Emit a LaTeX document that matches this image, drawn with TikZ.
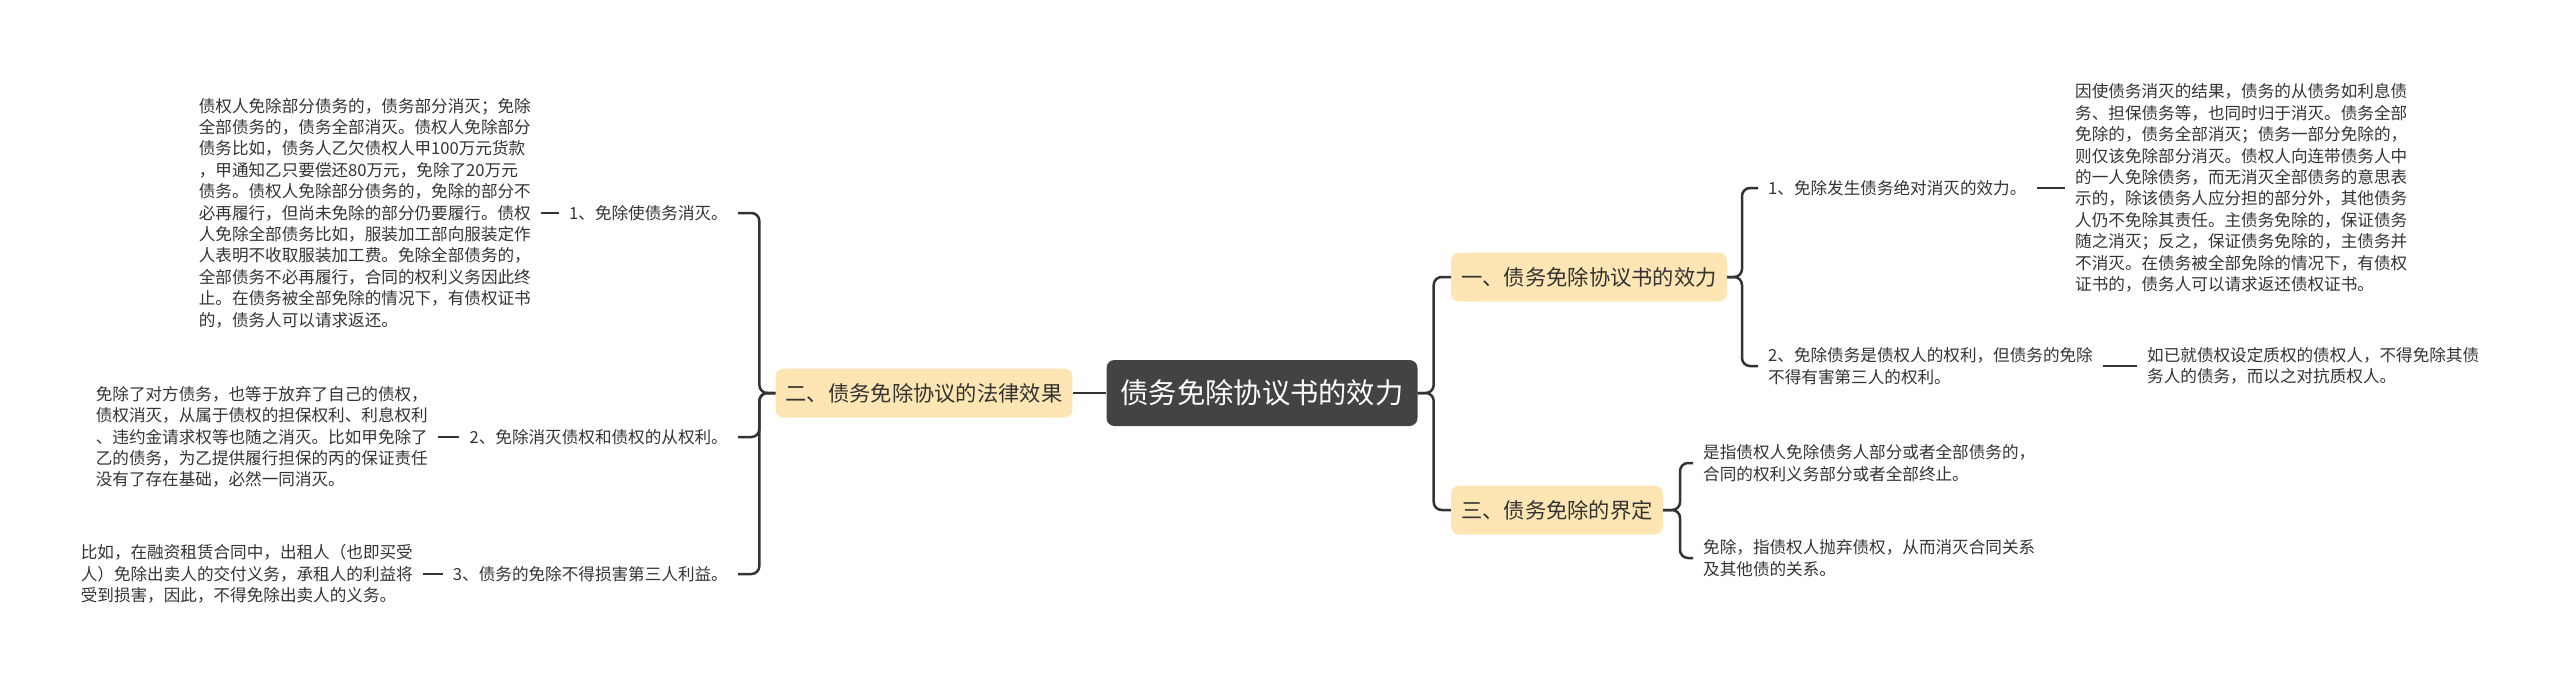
\documentclass[tikz,border=0pt]{standalone}
\usepackage{fontspec}
\usepackage{xcolor}
\usepackage{tikz}
\newfontfamily\cjk{Noto Sans CJK SC}
\definecolor{rootgray}{HTML}{434343}
\definecolor{topicyellow}{HTML}{FDE6B3}
\definecolor{inkgray}{HTML}{333333}

\begin{document}
\begin{tikzpicture}[x=1pt,y=-1pt,
  rootbox/.style={fill=rootgray,text=white,rounded corners=8pt,inner xsep=14pt,minimum height=66pt,font=\cjk\fontsize{28.3}{34}\selectfont},
  topicbox/.style={fill=topicyellow,text=inkgray,rounded corners=8pt,inner xsep=10pt,minimum height=49pt,font=\cjk\fontsize{21.3}{26}\selectfont},
  txt/.style={text=inkgray,align=left,inner xsep=10pt,inner ysep=3pt,font=\cjk\fontsize{16.6}{21.4}\selectfont},
  link/.style={draw=inkgray,line width=2.5pt,rounded corners=8pt}]
\useasboundingbox (0,0) rectangle (2560,686);

\node[rootbox] (root) at (1262,393) {债务免除协议书的效力};
\node[topicbox] (legal) at (924,393) {二、债务免除协议的法律效果};
\node[topicbox] (effect) at (1589,277) {一、债务免除协议书的效力};
\node[topicbox] (define) at (1557,510) {三、债务免除的界定};

\node[txt,anchor=east] (extinct) at (738,213) {1、免除使债务消灭。};
\node[txt,anchor=east] (extinctnote) at (541,213) {债权人免除部分债务的，债务部分消灭；免除\\全部债务的，债务全部消灭。债权人免除部分\\债务比如，债务人乙欠债权人甲100万元货款\\，甲通知乙只要偿还80万元，免除了20万元\\债务。债权人免除部分债务的，免除的部分不\\必再履行，但尚未免除的部分仍要履行。债权\\人免除全部债务比如，服装加工部向服装定作\\人表明不收取服装加工费。免除全部债务的，\\全部债务不必再履行，合同的权利义务因此终\\止。在债务被全部免除的情况下，有债权证书\\的，债务人可以请求返还。};
\node[txt,anchor=east] (accessory) at (738,437) {2、免除消灭债权和债权的从权利。};
\node[txt,anchor=east] (accessorynote) at (438,437) {免除了对方债务，也等于放弃了自己的债权，\\债权消灭，从属于债权的担保权利、利息权利\\、违约金请求权等也随之消灭。比如甲免除了\\乙的债务，为乙提供履行担保的丙的保证责任\\没有了存在基础，必然一同消灭。};
\node[txt,anchor=east] (third) at (738,574) {3、债务的免除不得损害第三人利益。};
\node[txt,anchor=east] (thirdnote) at (423,574) {比如，在融资租赁合同中，出租人（也即买受\\人）免除出卖人的交付义务，承租人的利益将\\受到损害，因此，不得免除出卖人的义务。};

\node[txt,anchor=west] (absolute) at (1758,188) {1、免除发生债务绝对消灭的效力。};
\node[txt,anchor=west] (absolutenote) at (2065,188) {因使债务消灭的结果，债务的从债务如利息债\\务、担保债务等，也同时归于消灭。债务全部\\免除的，债务全部消灭；债务一部分免除的，\\则仅该免除部分消灭。债权人向连带债务人中\\的一人免除债务，而无消灭全部债务的意思表\\示的，除该债务人应分担的部分外，其他债务\\人仍不免除其责任。主债务免除的，保证债务\\随之消灭；反之，保证债务免除的，主债务并\\不消灭。在债务被全部免除的情况下，有债权\\证书的，债务人可以请求返还债权证书。};
\node[txt,anchor=west] (creditor) at (1758,366) {2、免除债务是债权人的权利，但债务的免除\\不得有害第三人的权利。};
\node[txt,anchor=west] (creditornote) at (2137,366) {如已就债权设定质权的债权人，不得免除其债\\务人的债务，而以之对抗质权人。};
\node[txt,anchor=west] (meaning) at (1693,463) {是指债权人免除债务人部分或者全部债务的，\\合同的权利义务部分或者全部终止。};
\node[txt,anchor=west] (waive) at (1693,558) {免除，指债权人抛弃债权，从而消灭合同关系\\及其他债的关系。};

\draw[link] (root.west) -- (legal.east);
\draw[link] (root.east) -- ++(16,0) |- (effect.west);
\draw[link] (root.east) -- ++(16,0) |- (define.west);
\draw[link] (legal.west) -- ++(-16,0) |- (extinct.east);
\draw[link] (legal.west) -- ++(-16,0) |- (accessory.east);
\draw[link] (legal.west) -- ++(-16,0) |- (third.east);
\draw[link] (effect.east) -- ++(15,0) |- (absolute.west);
\draw[link] (effect.east) -- ++(15,0) |- (creditor.west);
\draw[link] (define.east) -- ++(17,0) |- (meaning.west);
\draw[link] (define.east) -- ++(17,0) |- (waive.west);
\draw[link] (extinctnote.east) -- (extinct.west);
\draw[link] (accessorynote.east) -- (accessory.west);
\draw[link] (thirdnote.east) -- (third.west);
\draw[link] (absolute.east) -- (absolutenote.west);
\draw[link] (creditor.east) -- (creditornote.west);
\end{tikzpicture}
\end{document}
